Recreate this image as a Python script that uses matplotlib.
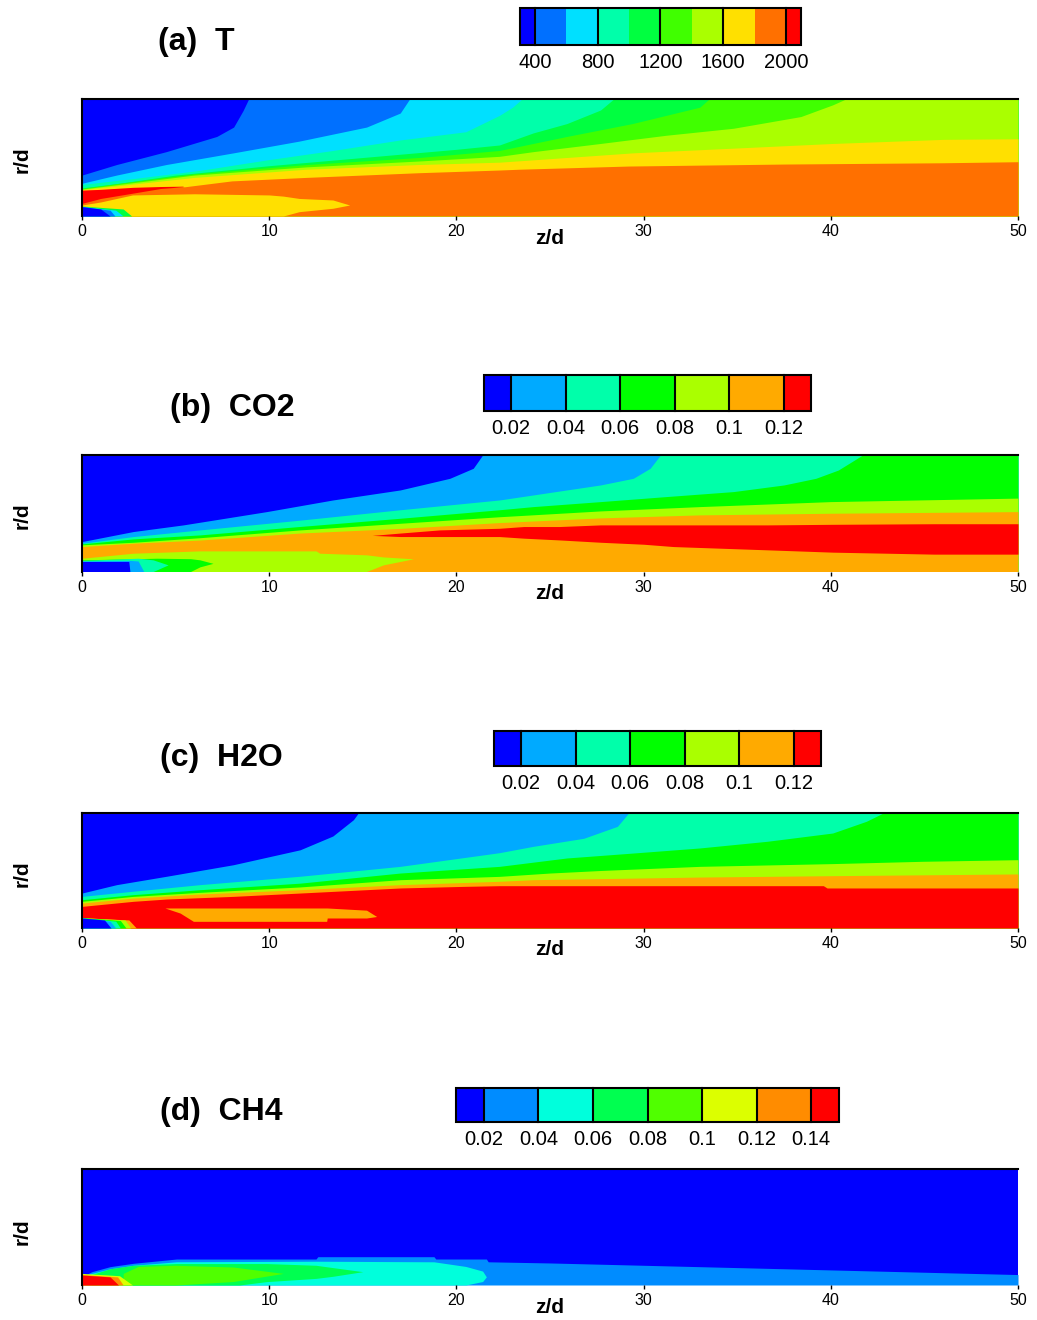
import matplotlib
matplotlib.use('Agg')
import matplotlib.pyplot as plt
from matplotlib.colors import ListedColormap, BoundaryNorm
import numpy as np

plt.rcParams['font.family'] = ['Liberation Sans', 'DejaVu Sans']

W, H = 1037, 1320

# r is given as fraction of the domain height (no r ticks in the original)
# each layer: band index, z/d points, lower r, upper r (painted in order)

# ---------------- (a) T ----------------
T_levels = [400, 600, 800, 1000, 1200, 1400, 1600, 1800, 2000]
T_colors = ['#0000ff', '#0070ff', '#00e0ff', '#00ffaa', '#00ff40',
            '#40ff00', '#aaff00', '#ffe000', '#ff7000', '#ff0000']
T_ticks = [400, 800, 1200, 1600, 2000]

T_z400 = [0, 1.85, 4.5, 7.2, 8.1, 8.6, 8.9, 50]
T_r400 = [0.35, 0.44, 0.55, 0.68, 0.76, 0.9, 1.0, 1.0]
T_z600 = [0, 1.85, 4.5, 8.1, 11.6, 15.2, 17.0, 17.5, 50]
T_r600 = [0.28, 0.35, 0.44, 0.54, 0.64, 0.76, 0.88, 1.0, 1.0]
T_z800 = [0, 2.75, 6.3, 9.9, 13.4, 17.0, 20.5, 22.3, 23.0, 23.5, 50]
T_r800 = [0.27, 0.32, 0.39, 0.48, 0.56, 0.65, 0.72, 0.86, 0.93, 1.0, 1.0]
T_z1000 = [0, 2, 5, 10, 15, 20, 22.3, 24.1, 25.9, 27.7, 28.4, 50]
T_r1000 = [0.24, 0.28, 0.35, 0.43, 0.50, 0.57, 0.607, 0.71, 0.79, 0.906, 1.0, 1.0]
T_z1200 = [0, 2, 6, 12, 18, 22.3, 25.9, 29.4, 33.0, 33.5, 50]
T_r1200 = [0.235, 0.28, 0.36, 0.44, 0.50, 0.56, 0.68, 0.79, 0.93, 1.0, 1.0]
T_z1400 = [0, 2, 6, 12, 18, 22.3, 24.1, 27.7, 31.2, 34.8, 38.4, 40.1, 40.8, 50]
T_r1400 = [0.23, 0.27, 0.35, 0.42, 0.47, 0.51, 0.55, 0.62, 0.69, 0.75, 0.85, 0.95, 1.0, 1.0]
T_z1600 = [0, 2, 6, 12, 18, 22.3, 24.1, 29.45, 34.8, 40.1, 46, 50]
T_r1600 = [0.225, 0.26, 0.33, 0.40, 0.44, 0.46, 0.48, 0.54, 0.58, 0.62, 0.655, 0.66]
T_z1800 = [0, 3, 5.5, 8, 12, 18, 22.3, 23.4, 29.2, 37.5, 46, 50]
T_r1800 = [0.22, 0.235, 0.25, 0.30, 0.33, 0.37, 0.393, 0.40, 0.427, 0.444, 0.455, 0.464]
# red streak at the flame front
T_zred = [0, 1, 2.7, 4.2, 5.4]
T_rred_lo = [0.108, 0.15, 0.195, 0.235, 0.25]
T_rred_hi = [0.22, 0.228, 0.245, 0.252, 0.255]
# yellow core near the axis
T_zcore = [0, 1, 2.7, 6, 10, 10.75, 11.6, 13.4, 14.3]
T_rcore_lo = [0, 0, 0, 0, 0, 0, 0.037, 0.066, 0.094]
T_rcore_hi = [0.094, 0.12, 0.18, 0.19, 0.18, 0.17, 0.15, 0.137, 0.094]
# cold fuel jet at the nozzle
T_zn4 = [0, 2.2, 2.65]
T_rn4 = [0.085, 0.06, 0]
T_zn2 = [0, 1.8, 2.2]
T_rn2 = [0.082, 0.05, 0]
T_zn1 = [0, 1.5, 1.76]
T_rn1 = [0.08, 0.05, 0]
T_zn0 = [0, 1.0, 1.5]
T_rn0 = [0.08, 0.06, 0]

# ---------------- (b) CO2 ----------------
Y_levels = [0.02, 0.04, 0.06, 0.08, 0.10, 0.12]
Y_colors = ['#0000ff', '#00aaff', '#00ffaa', '#00ff00', '#aaff00', '#ffaa00', '#ff0000']
Y_ticklabels = ['0.02', '0.04', '0.06', '0.08', '0.1', '0.12']

C_z1 = [0, 2.74, 5.41, 9.86, 13.4, 17.0, 19.65, 20.9, 21.4, 50]
C_r1 = [0.257, 0.343, 0.40, 0.514, 0.614, 0.70, 0.80, 0.886, 1.0, 1.0]
C_z2 = [0, 2.75, 6.3, 11.6, 17, 22.3, 24.1, 25.9, 27.7, 29.45, 30.35, 30.9, 50]
C_r2 = [0.243, 0.30, 0.357, 0.44, 0.53, 0.614, 0.657, 0.70, 0.743, 0.80, 0.886, 1.0, 1.0]
C_z3 = [0, 2.75, 6.3, 11.6, 17, 22.3, 24.1, 27.7, 31.2, 34.8, 37.5, 39.2, 40.4, 41.7, 50]
C_r3 = [0.237, 0.28, 0.314, 0.386, 0.457, 0.53, 0.557, 0.60, 0.643, 0.686, 0.743, 0.80, 0.871, 1.0, 1.0]
C_z4 = [0, 2.75, 6.3, 11.65, 17, 22.3, 27.7, 33, 40, 50]
C_r4 = [0.229, 0.251, 0.29, 0.357, 0.414, 0.47, 0.52, 0.557, 0.60, 0.63]
C_z5 = [0, 2.75, 6.3, 11.65, 17, 22.3, 27.7, 33, 40, 50]
C_r5 = [0.214, 0.243, 0.27, 0.33, 0.37, 0.42, 0.46, 0.486, 0.50, 0.514]
C_zred = [15.5, 17, 19.1, 22.3, 23.6, 25.5, 27.7, 30, 31.6, 36.6, 40.1, 45.5, 50]
C_rred_lo = [0.31, 0.30, 0.30, 0.30, 0.286, 0.271, 0.251, 0.234, 0.214, 0.186, 0.166, 0.149, 0.149]
C_rred_hi = [0.31, 0.33, 0.357, 0.371, 0.386, 0.386, 0.40, 0.40, 0.40, 0.40, 0.405, 0.41, 0.41]
C_zcore = [0, 0.96, 2.74, 6.3, 12.5, 12.7, 15.2, 16.1, 17.7]
C_rcore_lo = [0, 0, 0, 0, 0, 0, 0, 0.057, 0.109]
C_rcore_hi = [0.114, 0.129, 0.157, 0.177, 0.177, 0.157, 0.143, 0.125, 0.109]
C_zn3 = [0, 4.0, 5.8, 6.3, 7.0]
C_rn3_lo = [0, 0, 0, 0.04, 0.07]
C_rn3_hi = [0.10, 0.114, 0.11, 0.10, 0.07]
C_zn2 = [0, 3.0, 3.8, 4.6]
C_rn2_lo = [0, 0, 0, 0.057]
C_rn2_hi = [0.095, 0.114, 0.10, 0.057]
C_zn1 = [0, 2.6, 3.0, 3.3]
C_rn1 = [0.09, 0.095, 0.09, 0]
C_zn0 = [0, 2.5, 2.56]
C_rn0 = [0.086, 0.086, 0]

# ---------------- (c) H2O ----------------
W_z1 = [0, 1.85, 4.52, 8.08, 11.65, 13.4, 14.5, 14.76, 50]
W_r1 = [0.304, 0.377, 0.45, 0.55, 0.68, 0.80, 0.942, 1.0, 1.0]
W_z2 = [0, 2.74, 6.3, 11.65, 17, 22.3, 24.1, 26.8, 28.6, 29.2, 50]
W_r2 = [0.275, 0.32, 0.377, 0.45, 0.536, 0.655, 0.71, 0.78, 0.884, 1.0, 1.0]
W_z3 = [0, 2.74, 6.3, 11.65, 17, 22.3, 25.9, 29.45, 33, 36.6, 40.1, 41.9, 42.8, 50]
W_r3 = [0.246, 0.29, 0.333, 0.39, 0.478, 0.536, 0.609, 0.652, 0.696, 0.754, 0.826, 0.928, 1.0, 1.0]
W_z4 = [0, 2.74, 6.3, 11.65, 17, 22.3, 25, 27.7, 33, 40.1, 44.9, 50]
W_r4 = [0.232, 0.275, 0.31, 0.357, 0.42, 0.449, 0.478, 0.50, 0.536, 0.56, 0.58, 0.594]
W_z5 = [0, 2.74, 6.3, 11.65, 17, 22.3, 24.1, 33, 40.1, 50]
W_r5 = [0.217, 0.26, 0.296, 0.333, 0.377, 0.406, 0.42, 0.443, 0.455, 0.47]
W_z6 = [0, 2.74, 4.52, 8.08, 11.65, 17, 20.4, 22.3, 39.6, 39.8, 50]
W_r6 = [0.188, 0.232, 0.252, 0.275, 0.304, 0.348, 0.362, 0.368, 0.368, 0.348, 0.348]
W_zpk = [4.43, 5.24, 5.95, 13.07, 13.1, 15.2, 15.74]
W_rpk_lo = [0.174, 0.13, 0.058, 0.058, 0.087, 0.087, 0.10]
W_rpk_hi = [0.174, 0.174, 0.174, 0.174, 0.174, 0.155, 0.10]
W_zn5 = [0, 2.5, 2.9]
W_rn5 = [0.09, 0.07, 0]
W_zn4 = [0, 2.3, 2.6]
W_rn4 = [0.09, 0.07, 0]
W_zn3 = [0, 2.05, 2.35]
W_rn3 = [0.09, 0.065, 0]
W_zn2 = [0, 1.8, 2.05]
W_rn2 = [0.088, 0.06, 0]
W_zn1 = [0, 1.5, 1.8]
W_rn1 = [0.087, 0.06, 0]
W_zn0 = [0, 1.2, 1.55]
W_rn0 = [0.087, 0.07, 0]

# ---------------- (d) CH4 ----------------
M_levels = [0.02, 0.04, 0.06, 0.08, 0.10, 0.12, 0.14]
M_colors = ['#0000ff', '#008cff', '#00ffdc', '#00ff50', '#50ff00', '#dcff00', '#ff8c00', '#ff0000']
M_ticklabels = ['0.02', '0.04', '0.06', '0.08', '0.1', '0.12', '0.14']

M_z1 = [0, 0.53, 1.5, 2.74, 5.05, 12.5, 12.6, 18.8, 18.9, 21.6, 21.7, 25, 30, 35, 40, 45, 50]
M_r1 = [0.072, 0.115, 0.158, 0.187, 0.224, 0.224, 0.244, 0.244, 0.224, 0.224, 0.20,
        0.19, 0.17, 0.15, 0.13, 0.11, 0.09]
M_z2 = [0, 0.53, 1.5, 2.74, 5.05, 12.5, 18.8, 20.5, 21.4, 21.6]
M_r2_lo = [0, 0, 0, 0, 0, 0, 0, 0, 0.03, 0.07]
M_r2_hi = [0.07, 0.10, 0.14, 0.17, 0.20, 0.205, 0.20, 0.16, 0.12, 0.07]
M_z3 = [0.5, 1.5, 2.74, 5.05, 8.4, 9.86, 12.5, 13.4, 15.0]
M_r3_lo = [0, 0, 0, 0, 0, 0.029, 0.057, 0.075, 0.115]
M_r3_hi = [0.09, 0.14, 0.17, 0.185, 0.185, 0.185, 0.17, 0.15, 0.115]
M_z4 = [2.2, 3, 5, 8.08, 10.75]
M_r4_lo = [0, 0, 0, 0.03, 0.10]
M_r4_hi = [0.10, 0.16, 0.17, 0.155, 0.10]
M_z5 = [0, 2.0, 2.7]
M_r5 = [0.10, 0.08, 0]
M_z6 = [0, 1.9, 2.2]
M_r6 = [0.09, 0.07, 0]
M_z7 = [0, 1.5, 1.95]
M_r7 = [0.086, 0.07, 0]


def px(x0, y0, x1, y1):
    # pixel box (top-left origin) -> figure fraction rect
    return [x0 / W, 1 - y1 / H, (x1 - x0) / W, (y1 - y0) / H]


def drawField(ax, colors, layers):
    ax.set_facecolor(colors[0])
    for band, z, lo, hi in layers:
        ax.fill_between(z, lo, hi, color=colors[band], linewidth=0)
    ax.set_xlim(0, 50)
    ax.set_ylim(0, 1)
    ax.set_xticks([0, 10, 20, 30, 40, 50])
    ax.set_yticks([])
    ax.tick_params(axis='x', length=3, width=1, pad=3, labelsize=11.5)
    for s in ['bottom', 'right']:
        ax.spines[s].set_visible(False)
    for s in ['top', 'left']:
        ax.spines[s].set_linewidth(1.5)
    ax.text(25, -0.19, 'z/d', transform=ax.get_xaxis_transform(), ha='center', va='center',
            fontsize=15, fontweight='bold')


def drawBar(fig, rect, colors, levels, ticks, ticklabels, lines, efrac):
    cax = fig.add_axes(rect)
    cmap = ListedColormap(colors[1:-1])
    cmap.set_under(colors[0])
    cmap.set_over(colors[-1])
    norm = BoundaryNorm(levels, cmap.N)
    sm = plt.cm.ScalarMappable(norm=norm, cmap=cmap)
    cb = fig.colorbar(sm, cax=cax, orientation='horizontal', extend='both',
                      extendrect=True, extendfrac=efrac, ticks=ticks)
    cb.minorticks_off()
    cb.ax.set_xticklabels(ticklabels)
    cb.ax.tick_params(which='both', length=0, pad=6, labelsize=14.5)
    cb.outline.set_linewidth(1.5)
    for v in lines:
        cb.ax.axvline(v, color='k', linewidth=1.5, clip_on=False)


def main():
    fig = plt.figure(figsize=(W / 100, H / 100), dpi=100)

    # (a)
    ax = fig.add_axes(px(82, 99, 1018, 216))
    layers = [(1, T_z400, 0, T_r400), (2, T_z600, 0, T_r600), (3, T_z800, 0, T_r800),
              (4, T_z1000, 0, T_r1000), (5, T_z1200, 0, T_r1200), (6, T_z1400, 0, T_r1400),
              (7, T_z1600, 0, T_r1600), (8, T_z1800, 0, T_r1800),
              (9, T_zred, T_rred_lo, T_rred_hi), (7, T_zcore, T_rcore_lo, T_rcore_hi),
              (4, T_zn4, 0, T_rn4), (2, T_zn2, 0, T_rn2), (1, T_zn1, 0, T_rn1), (0, T_zn0, 0, T_rn0)]
    drawField(ax, T_colors, layers)
    drawBar(fig, px(520, 8, 801, 45), T_colors, T_levels, T_ticks,
            [str(t) for t in T_ticks], T_ticks, 0.06)
    fig.text(158 / W, 1 - 42 / H, '(a)  T', fontsize=23, fontweight='bold', va='center')
    fig.text(22 / W, 1 - 160 / H, 'r/d', rotation=90, fontsize=15, fontweight='bold',
             ha='center', va='center')

    # (b)
    ax = fig.add_axes(px(82, 455, 1018, 571.5))
    layers = [(1, C_z1, 0, C_r1), (2, C_z2, 0, C_r2), (3, C_z3, 0, C_r3), (4, C_z4, 0, C_r4),
              (5, C_z5, 0, C_r5), (6, C_zred, C_rred_lo, C_rred_hi),
              (4, C_zcore, C_rcore_lo, C_rcore_hi), (3, C_zn3, C_rn3_lo, C_rn3_hi),
              (2, C_zn2, C_rn2_lo, C_rn2_hi), (1, C_zn1, 0, C_rn1), (0, C_zn0, 0, C_rn0)]
    drawField(ax, Y_colors, layers)
    drawBar(fig, px(484, 375, 811, 411), Y_colors, Y_levels, Y_levels, Y_ticklabels,
            Y_levels, 0.1)
    fig.text(170 / W, 1 - 408 / H, '(b)  CO2', fontsize=23, fontweight='bold', va='center')
    fig.text(22 / W, 1 - 516 / H, 'r/d', rotation=90, fontsize=15, fontweight='bold',
             ha='center', va='center')

    # (c)
    ax = fig.add_axes(px(82, 813, 1018, 928))
    layers = [(1, W_z1, 0, W_r1), (2, W_z2, 0, W_r2), (3, W_z3, 0, W_r3), (4, W_z4, 0, W_r4),
              (5, W_z5, 0, W_r5), (6, W_z6, 0, W_r6), (5, W_zpk, W_rpk_lo, W_rpk_hi),
              (5, W_zn5, 0, W_rn5), (4, W_zn4, 0, W_rn4), (3, W_zn3, 0, W_rn3),
              (2, W_zn2, 0, W_rn2), (1, W_zn1, 0, W_rn1), (0, W_zn0, 0, W_rn0)]
    drawField(ax, Y_colors, layers)
    drawBar(fig, px(494, 731, 821, 766), Y_colors, Y_levels, Y_levels, Y_ticklabels,
            Y_levels, 0.1)
    fig.text(160 / W, 1 - 758 / H, '(c)  H2O', fontsize=23, fontweight='bold', va='center')
    fig.text(22 / W, 1 - 874 / H, 'r/d', rotation=90, fontsize=15, fontweight='bold',
             ha='center', va='center')

    # (d)
    ax = fig.add_axes(px(82, 1169, 1018, 1285))
    layers = [(1, M_z1, 0, M_r1), (2, M_z2, M_r2_lo, M_r2_hi), (3, M_z3, M_r3_lo, M_r3_hi),
              (4, M_z4, M_r4_lo, M_r4_hi), (5, M_z5, 0, M_r5), (6, M_z6, 0, M_r6),
              (7, M_z7, 0, M_r7)]
    drawField(ax, M_colors, layers)
    drawBar(fig, px(456, 1088, 839, 1122), M_colors, M_levels, M_levels, M_ticklabels,
            M_levels, 0.085)
    fig.text(160 / W, 1 - 1112 / H, '(d)  CH4', fontsize=23, fontweight='bold', va='center')
    fig.text(22 / W, 1 - 1232 / H, 'r/d', rotation=90, fontsize=15, fontweight='bold',
             ha='center', va='center')

    fig.savefig('out.png', dpi=100)


if __name__ == "__main__":
    main()
